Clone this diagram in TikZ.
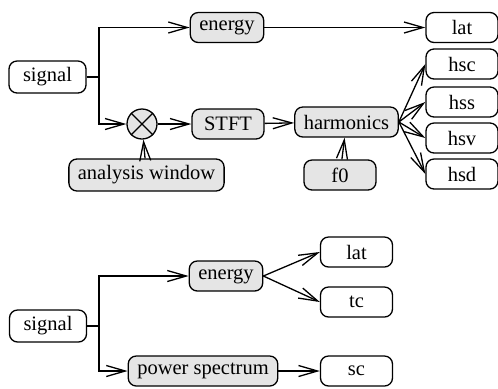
\documentclass[tikz,border=0pt]{standalone}
\usepackage{fontspec}
\setmainfont{Liberation Serif}
\usepackage{tikz}
\usetikzlibrary{shapes.geometric, arrows.meta}
\tikzstyle{feature} = [rectangle, rounded corners=4pt, minimum width=36pt, minimum height=15pt, inner xsep=4.5pt, text centered, draw=black, fill=white]
\tikzstyle{process} = [feature, fill=gray!20]
\tikzstyle{mixer} = [circle, minimum size=15pt, inner sep=0pt, draw=black, fill=gray!20]
\tikzstyle{arrow} = [->, >={Straight Barb[length=9.5pt,width=5.5pt]}]

\begin{document}
\begin{tikzpicture}[x=0.5pt, y=-0.5pt, line width=0.65pt, font=\fontsize{10.25}{12}\selectfont]
    \useasboundingbox (0,0) rectangle (498,388);
    % upper chain
    \node (signal) [feature, minimum width=38.5pt] at (47.5,77) {signal};
    \coordinate (split) at (99,77);
    \node (energy) [process] at (227,27.5) {energy};
    \node (mult) [mixer] at (142,124) {};
    \draw (mult.north west) -- (mult.south east);
    \draw (mult.south west) -- (mult.north east);
    \node (window) [process] at (146.5,175) {analysis window};
    \node (stft) [process] at (228,124) {STFT};
    \node (harmonics) [process] at (346.5,122) {harmonics};
    \node (fzero) [process] at (340,175) {f0};
    \node (lat) [feature] at (462,27.5) {lat};
    \node (hsc) [feature] at (462,64) {hsc};
    \node (hss) [feature] at (462,102) {hss};
    \node (hsv) [feature] at (462,138) {hsv};
    \node (hsd) [feature] at (462,174) {hsd};

    \draw (signal) -- (split);
    \draw [arrow] (split) |- (energy);
    \draw [arrow] (split) |- (mult);
    \draw [arrow] (energy) -- (lat);
    \draw [arrow] (window) -- (mult);
    \draw [arrow] (mult) -- (stft);
    \draw [arrow] (stft) -- (harmonics);
    \draw [arrow] (fzero) -- (harmonics);
    \draw [arrow] (harmonics.east) -- (hsc.west);
    \draw [arrow] (harmonics.east) -- (hss.west);
    \draw [arrow] (harmonics.east) -- (hsv.west);
    \draw [arrow] (harmonics.east) -- (hsd.west);

    % lower chain
    \node (signalb) [feature, minimum width=38.5pt] at (48,326) {signal};
    \coordinate (splitb) at (99,326);
    \node (energyb) [process] at (226,276) {energy};
    \node (power) [process] at (203,371) {power spectrum};
    \node (latb) [feature] at (356.5,252) {lat};
    \node (tc) [feature] at (356.5,302) {tc};
    \node (sc) [feature] at (356.5,371) {sc};

    \draw (signalb) -- (splitb);
    \draw [arrow] (splitb) |- (energyb);
    \draw [arrow] (splitb) |- (power);
    \draw [arrow] (energyb.east) -- (latb.west);
    \draw [arrow] (energyb.east) -- (tc.west);
    \draw [arrow] (power) -- (sc);
\end{tikzpicture}
\end{document}
